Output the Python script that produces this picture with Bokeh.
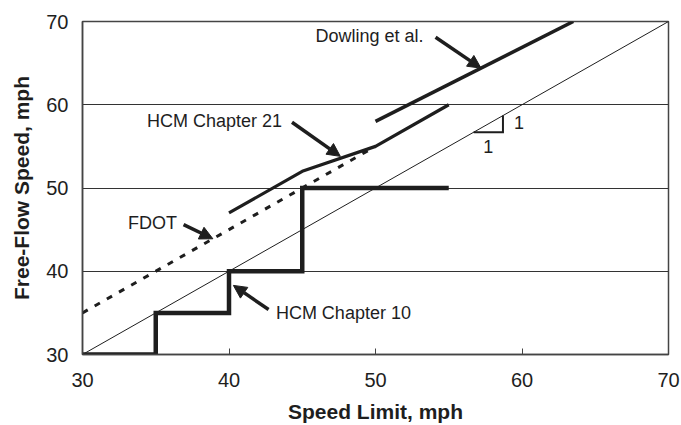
from bokeh.plotting import figure
from bokeh.models import Range1d, FixedTicker, Arrow, NormalHead, ColumnDataSource
from bokeh.core.properties import value
from bokeh.embed import file_html
from bokeh.resources import INLINE

# ---- data ----
diag_x = [30, 70]
diag_y = [30, 70]
hcm10_x = [30, 35, 35, 40, 40, 45, 45, 55]
hcm10_y = [30, 30, 35, 35, 40, 40, 50, 50]
fdot_x = [30, 50]
fdot_y = [35, 55]
hcm21_x = [40, 45, 50, 55]
hcm21_y = [47, 52, 55, 60]
dowling_x = [50, 63.5]
dowling_y = [58, 70]
tri_x = [56.7, 58.7, 58.7]
tri_y = [56.7, 56.7, 58.7]
x_ticks = [30, 40, 50, 60, 70]
y_ticks = [30, 40, 50, 60, 70]
grid_levels = [40, 50, 60]

label_text = ["Dowling et al.", "HCM Chapter 21", "FDOT", "HCM Chapter 10"]
label_x = [45.9, 34.4, 33.1, 43.2]
label_y = [68.2, 58.1, 45.8, 35.0]
arrow_x0 = [54.1, 44.3, 36.9, 42.7]
arrow_y0 = [68.1, 57.9, 45.6, 35.4]
arrow_x1 = [57.2, 47.6, 38.9, 40.3]
arrow_y1 = [64.4, 53.8, 43.9, 38.3]
one_text = ["1", "1"]
one_x = [59.8, 57.7]
one_y = [57.9, 55.0]

INK = "#1e1e1e"
FONT = "Liberation Sans"

p = figure(width=681, height=425, output_backend="svg", toolbar_location=None,
           x_range=Range1d(30, 70), y_range=Range1d(30, 70),
           min_border_left=82, min_border_right=13, min_border_top=21, min_border_bottom=69)
p.background_fill_color = "white"
p.border_fill_color = "white"
p.outline_line_color = "#444444"
p.outline_line_width = 1.5

# axes
p.xaxis.ticker = FixedTicker(ticks=x_ticks)
p.yaxis.ticker = FixedTicker(ticks=y_ticks)
for ax in (p.xaxis, p.yaxis):
    ax.axis_line_color = "#444444"
    ax.axis_line_width = 1.5
    ax.major_tick_line_color = "#444444"
    ax.minor_tick_line_color = None
    ax.major_label_text_font = FONT
    ax.major_label_text_font_size = "20px"
    ax.major_label_text_color = INK
    ax.axis_label_text_font = FONT
    ax.axis_label_text_font_size = "21px"
    ax.axis_label_text_font_style = "bold"
    ax.axis_label_text_color = INK
p.xaxis.major_tick_in = 6
p.xaxis.major_tick_out = 0
p.yaxis.major_tick_in = 0
p.yaxis.major_tick_out = 0
p.xaxis.major_label_standoff = 18
p.yaxis.major_label_standoff = 14
p.xaxis.axis_label = "Speed Limit, mph"
p.yaxis.axis_label = "Free-Flow Speed, mph"
p.xaxis.axis_label_standoff = 10
p.yaxis.axis_label_standoff = 10

p.xgrid.grid_line_color = None
p.ygrid.ticker = FixedTicker(ticks=grid_levels)
p.ygrid.grid_line_color = "#333333"
p.ygrid.grid_line_width = 1

# lines
p.line(diag_x, diag_y, line_color=INK, line_width=1)
p.line(hcm10_x, hcm10_y, line_color=INK, line_width=4.5, line_join="miter")
p.line(fdot_x, fdot_y, line_color=INK, line_width=3, line_dash="6 8")
p.line(hcm21_x, hcm21_y, line_color=INK, line_width=3.2, line_join="round")
p.line(dowling_x, dowling_y, line_color=INK, line_width=3.5)
p.line(tri_x, tri_y, line_color=INK, line_width=2, line_join="miter")

# labels
src = ColumnDataSource(dict(x=label_x, y=label_y, t=label_text))
p.text(x="x", y="y", text="t", source=src, text_font=value(FONT), text_font_size="18px",
       text_color=INK, text_align="left", text_baseline="middle")
src1 = ColumnDataSource(dict(x=one_x, y=one_y, t=one_text))
p.text(x="x", y="y", text="t", source=src1, text_font=value(FONT), text_font_size="18px",
       text_color=INK, text_align="center", text_baseline="middle")

# arrows
for x0, y0, x1, y1 in zip(arrow_x0, arrow_y0, arrow_x1, arrow_y1):
    p.add_layout(Arrow(end=NormalHead(size=13, fill_color=INK, line_color=INK, line_width=1),
                       x_start=x0, y_start=y0, x_end=x1, y_end=y1,
                       line_color=INK, line_width=3.5))

open("out.html", "w").write(file_html(p, INLINE))
